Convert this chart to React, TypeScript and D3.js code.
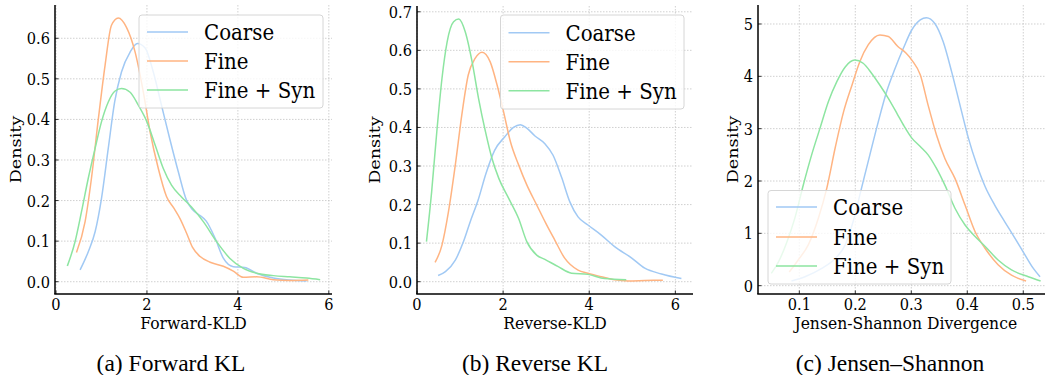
import * as d3 from "d3";
import React from "react";

type Pt = [number, number];

const seriesNames = ["Coarse", "Fine", "Fine + Syn"];
const seriesColors = ["#a1c9f4", "#ffb482", "#8de5a1"];

// (a) Forward KL
const fwdCoarse: Pt[] = [
  [0.53, 0.029], [0.71, 0.074], [0.86, 0.123], [1.0, 0.205], [1.15, 0.329],
  [1.29, 0.443], [1.44, 0.517], [1.63, 0.566], [1.79, 0.587], [1.96, 0.576],
  [2.14, 0.517], [2.32, 0.435], [2.5, 0.353], [2.69, 0.271], [2.87, 0.201],
  [3.0, 0.178], [3.17, 0.163], [3.3, 0.15], [3.5, 0.107], [3.68, 0.058],
  [3.9, 0.037], [4.15, 0.035], [4.41, 0.021], [4.78, 0.009], [5.14, 0.004],
  [5.51, 0.002],
];
const fwdFine: Pt[] = [
  [0.45, 0.072], [0.64, 0.148], [0.78, 0.255], [0.93, 0.4], [1.08, 0.534],
  [1.22, 0.632], [1.37, 0.65], [1.55, 0.627], [1.74, 0.566], [1.92, 0.468],
  [2.07, 0.369], [2.25, 0.279], [2.43, 0.21], [2.6, 0.18], [2.73, 0.155],
  [2.87, 0.12], [3.0, 0.085], [3.17, 0.062], [3.39, 0.048], [3.68, 0.038],
  [3.9, 0.026], [4.12, 0.011], [4.41, 0.012], [4.78, 0.005], [5.14, 0.003],
  [5.55, 0.004],
];
const fwdSyn: Pt[] = [
  [0.25, 0.039], [0.42, 0.099], [0.56, 0.172], [0.71, 0.255], [0.86, 0.329],
  [1.0, 0.394], [1.15, 0.443], [1.3, 0.47], [1.44, 0.476], [1.63, 0.467],
  [1.81, 0.435], [2.0, 0.394], [2.18, 0.337], [2.36, 0.279], [2.54, 0.238],
  [2.76, 0.209], [2.98, 0.184], [3.24, 0.148], [3.53, 0.099], [3.82, 0.058],
  [4.12, 0.033], [4.41, 0.021], [4.78, 0.015], [5.14, 0.012], [5.51, 0.009],
  [5.81, 0.005],
];

// (b) Reverse KL
const revCoarse: Pt[] = [
  [0.49, 0.016], [0.66, 0.026], [0.89, 0.056], [1.08, 0.104], [1.25, 0.16],
  [1.42, 0.212], [1.6, 0.28], [1.8, 0.34], [2.04, 0.376], [2.24, 0.4],
  [2.4, 0.407], [2.55, 0.398], [2.74, 0.378], [2.97, 0.358], [3.16, 0.328],
  [3.36, 0.27], [3.55, 0.207], [3.74, 0.168], [3.97, 0.147], [4.28, 0.121],
  [4.59, 0.091], [4.98, 0.062], [5.29, 0.035], [5.68, 0.02], [6.14, 0.008],
];
const revFine: Pt[] = [
  [0.42, 0.05], [0.58, 0.095], [0.73, 0.181], [0.89, 0.303], [1.04, 0.432],
  [1.19, 0.536], [1.35, 0.579], [1.51, 0.595], [1.7, 0.57], [1.86, 0.51],
  [2.01, 0.441], [2.17, 0.363], [2.36, 0.303], [2.55, 0.251], [2.78, 0.199],
  [2.99, 0.152], [3.2, 0.108], [3.43, 0.061], [3.74, 0.03], [3.97, 0.022],
  [4.28, 0.013], [4.59, 0.005], [4.9, 0.002], [5.29, 0.003], [5.71, 0.004],
];
const revSyn: Pt[] = [
  [0.22, 0.104], [0.34, 0.233], [0.46, 0.389], [0.58, 0.527], [0.7, 0.622],
  [0.85, 0.674], [0.97, 0.681], [1.12, 0.648], [1.28, 0.57], [1.43, 0.475],
  [1.59, 0.389], [1.74, 0.32], [1.9, 0.268], [2.13, 0.216], [2.36, 0.164],
  [2.55, 0.104], [2.78, 0.069], [2.97, 0.058], [3.28, 0.039], [3.59, 0.022],
  [3.97, 0.019], [4.36, 0.008], [4.86, 0.005],
];

// (c) Jensen-Shannon
const jsCoarse: Pt[] = [
  [0.086, 0.09], [0.11, 0.17], [0.14, 0.33], [0.164, 0.52], [0.182, 0.78],
  [0.196, 1.22], [0.211, 1.86], [0.226, 2.5], [0.241, 3.13], [0.256, 3.71],
  [0.271, 4.15], [0.286, 4.54], [0.301, 4.89], [0.316, 5.08], [0.327, 5.12],
  [0.342, 5.01], [0.357, 4.66], [0.372, 4.09], [0.387, 3.45], [0.402, 2.82],
  [0.417, 2.31], [0.432, 1.89], [0.449, 1.54], [0.467, 1.22], [0.485, 0.91],
  [0.503, 0.59], [0.518, 0.33], [0.53, 0.17],
];
const jsFine: Pt[] = [
  [0.082, 0.26], [0.098, 0.49], [0.116, 0.78], [0.134, 1.29], [0.149, 1.86],
  [0.164, 2.63], [0.179, 3.32], [0.194, 3.83], [0.208, 4.28], [0.223, 4.6],
  [0.244, 4.79], [0.259, 4.76], [0.276, 4.57], [0.29, 4.45], [0.301, 4.31],
  [0.316, 4.03], [0.33, 3.45], [0.345, 2.88], [0.36, 2.43], [0.378, 2.05],
  [0.396, 1.54], [0.414, 1.03], [0.432, 0.71], [0.455, 0.4], [0.479, 0.2],
  [0.505, 0.09],
];
const jsSyn: Pt[] = [
  [0.05, 0.236], [0.063, 0.459], [0.078, 0.84], [0.092, 1.29], [0.107, 1.92],
  [0.122, 2.5], [0.137, 3.01], [0.152, 3.52], [0.167, 3.9], [0.182, 4.18],
  [0.199, 4.31], [0.214, 4.25], [0.229, 4.06], [0.244, 3.83], [0.259, 3.58],
  [0.275, 3.28], [0.286, 3.07], [0.301, 2.82], [0.316, 2.66], [0.33, 2.5],
  [0.345, 2.24], [0.36, 1.92], [0.378, 1.48], [0.396, 1.16], [0.414, 0.94],
  [0.432, 0.75], [0.455, 0.49], [0.479, 0.3], [0.509, 0.17], [0.531, 0.09],
];

const fwdXTicks = [0, 2, 4, 6];
const fwdYTicks = [0, 0.1, 0.2, 0.3, 0.4, 0.5, 0.6];
const revXTicks = [0, 2, 4, 6];
const revYTicks = [0, 0.1, 0.2, 0.3, 0.4, 0.5, 0.6, 0.7];
const jsXTicks = [0.1, 0.2, 0.3, 0.4, 0.5];
const jsYTicks = [0, 1, 2, 3, 4, 5];

const captions = ["(a) Forward KL", "(b) Reverse KL", "(c) Jensen\u2013Shannon"];

const FONT = "'DejaVu Serif', serif";
// the source figure is a bit stretched vertically
const SY = 1.13;

type TProps = {
  x: number;
  y: number;
  size: number;
  anchor?: "start" | "middle" | "end";
  rot?: number;
  dy?: string;
  sy?: number;
  children: React.ReactNode;
};

const T: React.FC<TProps> = ({ x, y, size, anchor = "start", rot, dy, sy = SY, children }) => (
  <text
    transform={`translate(${x},${y}) scale(1,${sy})${rot ? ` rotate(${rot})` : ""}`}
    dy={dy}
    textAnchor={anchor}
    fontFamily={FONT}
    fontSize={size}
    fill="#000">
    {children}
  </text>
);

type PanelProps = {
  box: { left: number; right: number; top: number; bottom: number };
  xDomain: [number, number];
  yDomain: [number, number];
  xTicks: number[];
  yTicks: number[];
  xFmt: (v: number) => string;
  yFmt: (v: number) => string;
  xLabel: string;
  yLabelOffset: number;
  series: Pt[][];
  legend: { x: number; y: number; w: number; h: number; rows: number[] };
  clipId: string;
};

const Panel: React.FC<PanelProps> = ({
  box, xDomain, yDomain, xTicks, yTicks, xFmt, yFmt, xLabel, yLabelOffset, series, legend, clipId,
}) => {
  const x = d3.scaleLinear().domain(xDomain).range([box.left, box.right]);
  const y = d3.scaleLinear().domain(yDomain).range([box.bottom, box.top]);
  const line = d3
    .line<Pt>()
    .x((d) => x(d[0]))
    .y((d) => y(d[1]))
    .curve(d3.curveMonotoneX);

  return (
    <g>
      <clipPath id={clipId}>
        <rect x={box.left} y={box.top} width={box.right - box.left} height={box.bottom - box.top} />
      </clipPath>
      {/* grid */}
      {yTicks.map((t) => (
        <line key={"gy" + t} x1={box.left} x2={box.right} y1={y(t)} y2={y(t)}
          stroke="#c4c4c4" strokeWidth={0.8} strokeDasharray="1.5,1.5" />
      ))}
      {xTicks.map((t) => (
        <line key={"gx" + t} x1={x(t)} x2={x(t)} y1={box.top} y2={box.bottom}
          stroke="#c4c4c4" strokeWidth={0.8} strokeDasharray="1.5,1.5" />
      ))}
      {/* curves */}
      <g clipPath={`url(#${clipId})`}>
        {series.map((s, i) => (
          <path key={i} d={line(s) || ""} fill="none" stroke={seriesColors[i]} strokeWidth={1.5} />
        ))}
      </g>
      {/* spines */}
      <line x1={box.left} x2={box.left} y1={box.top} y2={box.bottom} stroke="#000" strokeWidth={1.5} />
      <line x1={box.left - 0.75} x2={box.right} y1={box.bottom} y2={box.bottom} stroke="#000" strokeWidth={1.5} />
      {/* ticks */}
      {yTicks.map((t) => (
        <g key={"ty" + t}>
          <line x1={box.left} x2={box.left + 3.5} y1={y(t)} y2={y(t)} stroke="#000" strokeWidth={0.8} />
          <T x={box.left - 5} y={y(t) + 0.36 * 14.6 * SY} size={14.6} anchor="end">
            {yFmt(t)}
          </T>
        </g>
      ))}
      {xTicks.map((t) => (
        <g key={"tx" + t}>
          <line x1={x(t)} x2={x(t)} y1={box.bottom} y2={box.bottom - 3.5} stroke="#000" strokeWidth={0.8} />
          <T x={x(t)} y={box.bottom + 15.5} size={14.6} anchor="middle">
            {xFmt(t)}
          </T>
        </g>
      ))}
      {/* axis labels */}
      <T x={(box.left + box.right) / 2} y={328.5} size={15.6} anchor="middle" sy={1.03}>
        {xLabel}
      </T>
      <T x={box.left - yLabelOffset} y={(box.top + box.bottom) / 2} size={15.6} anchor="middle" rot={-90} dy="0.35em">
        Density
      </T>
      {/* legend */}
      <rect x={legend.x} y={legend.y} width={legend.w} height={legend.h} rx={3}
        fill="#fff" fillOpacity={0.8} stroke="#d6d6d6" strokeWidth={1} />
      {seriesNames.map((name, i) => (
        <g key={name}>
          <line x1={legend.x + 8} x2={legend.x + 49} y1={legend.rows[i]} y2={legend.rows[i]}
            stroke={seriesColors[i]} strokeWidth={1.5} />
          <T x={legend.x + 65} y={legend.rows[i] + 0.36 * 19.8 * SY} size={19.8}>
            {name}
          </T>
        </g>
      ))}
    </g>
  );
};

export default function App() {
  const f1 = d3.format(".1f");
  const f0 = d3.format("d");
  return (
    <svg width={1045} height={375} style={{ position: "absolute", left: 0, top: 0, background: "#fff" }}>
      <Panel
        box={{ left: 55, right: 332, top: 5, bottom: 294 }}
        xDomain={[-0.022, 6.07]}
        yDomain={[-0.0303, 0.682]}
        xTicks={fwdXTicks}
        yTicks={fwdYTicks}
        xFmt={f0}
        yFmt={f1}
        xLabel="Forward-KLD"
        yLabelOffset={39}
        series={[fwdCoarse, fwdFine, fwdSyn]}
        legend={{ x: 139, y: 15, w: 184, h: 93, rows: [32, 61, 90] }}
        clipId="clipA"
      />
      <Panel
        box={{ left: 417, right: 693, top: 6, bottom: 294 }}
        xDomain={[0, 6.41]}
        yDomain={[-0.0319, 0.715]}
        xTicks={revXTicks}
        yTicks={revYTicks}
        xFmt={f0}
        yFmt={f1}
        xLabel="Reverse-KLD"
        yLabelOffset={42}
        series={[revCoarse, revFine, revSyn]}
        legend={{ x: 500.5, y: 15, w: 183.5, h: 94, rows: [32.7, 61.7, 90.7] }}
        clipId="clipB"
      />
      <Panel
        box={{ left: 758, right: 1053.5, top: 5, bottom: 294 }}
        xDomain={[0.0262, 0.554]}
        yDomain={[-0.159, 5.363]}
        xTicks={jsXTicks}
        yTicks={jsYTicks}
        xFmt={f1}
        yFmt={f0}
        xLabel="Jensen-Shannon Divergence"
        yLabelOffset={25}
        series={[jsCoarse, jsFine, jsSyn]}
        legend={{ x: 768, y: 190.5, w: 183, h: 93.5, rows: [207, 237, 266] }}
        clipId="clipC"
      />
      {captions.map((c, i) => (
        <text key={c} x={[171, 535, 890][i]} y={371} textAnchor="middle"
          fontFamily="'Liberation Serif', 'Times New Roman', serif" fontSize={23.5} fill="#000">
          {c}
        </text>
      ))}
    </svg>
  );
}
